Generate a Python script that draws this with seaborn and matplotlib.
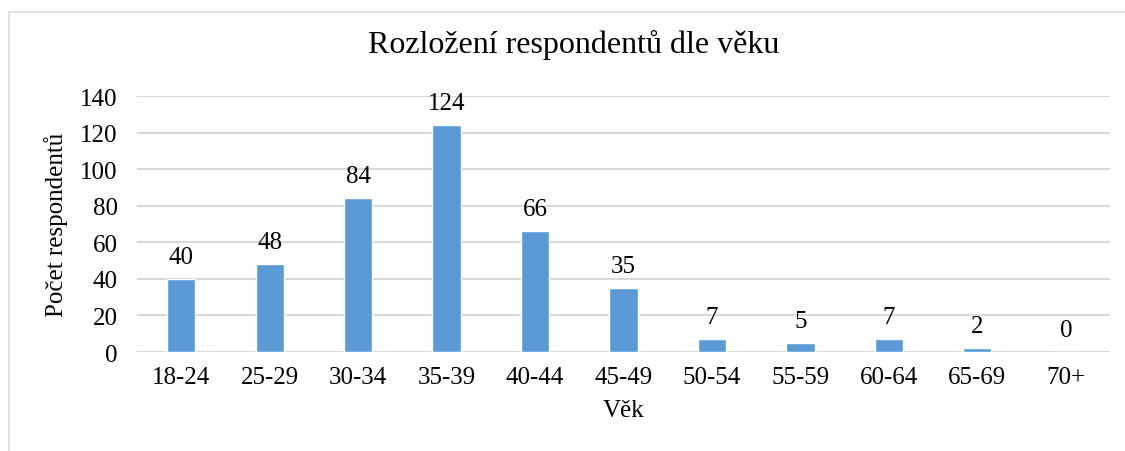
import matplotlib
matplotlib.use("Agg")
import matplotlib.pyplot as plt
import seaborn as sns
import pandas as pd
from matplotlib.lines import Line2D

categories = ["18-24", "25-29", "30-34", "35-39", "40-44", "45-49",
              "50-54", "55-59", "60-64", "65-69", "70+"]
counts = [40, 48, 84, 124, 66, 35, 7, 5, 7, 2, 0]
yticks = [0, 20, 40, 60, 80, 100, 120, 140]

df = pd.DataFrame({"Věk": categories, "Počet": counts})

sns.set_theme(style="white")
plt.rcParams["font.family"] = ["Liberation Serif", "DejaVu Serif"]
plt.rcParams["text.color"] = "black"

fig = plt.figure(figsize=(11.25, 4.52), dpi=100)
ax = fig.add_axes([137 / 1125, 1 - 353 / 452, (1110 - 137) / 1125, (353 - 97) / 452])

sns.barplot(data=df, x="Věk", y="Počet", color="#5B9BD5", width=0.32,
            saturation=1, ax=ax, zorder=3)

ax.set_ylim(0, 140)
ax.set_xlim(-0.5, len(categories) - 0.5)
ax.set_yticks(yticks)
ax.yaxis.grid(True, color="#D9D9D9", linewidth=1.5, zorder=0)
ax.set_axisbelow(True)
for s in ax.spines.values():
    s.set_visible(False)
ax.tick_params(axis="both", length=0, labelsize=18, colors="black")
ax.tick_params(axis="y", pad=14)
ax.tick_params(axis="x", pad=10)

for i, v in enumerate(counts):
    ax.text(i, v + 6, str(v), ha="center", va="bottom", fontsize=18, color="black")

ax.set_xlabel("Věk", fontsize=18, labelpad=8, color="black")
ax.set_ylabel("Počet respondentů", fontsize=18, labelpad=9, color="black")
fig.suptitle("Rozložení respondentů dle věku", fontsize=23, x=574 / 1125,
             y=1 - 45 / 452, va="center", color="black")

top = 1 - 12.5 / 452
left = 8.5 / 1125
fig.add_artist(Line2D([left, 1.0], [top, top], transform=fig.transFigure,
                      color="#D9D9D9", linewidth=1.2))
fig.add_artist(Line2D([left, left], [0.0, top], transform=fig.transFigure,
                      color="#D9D9D9", linewidth=1.2))

fig.savefig("out.png", dpi=100, facecolor="white")
